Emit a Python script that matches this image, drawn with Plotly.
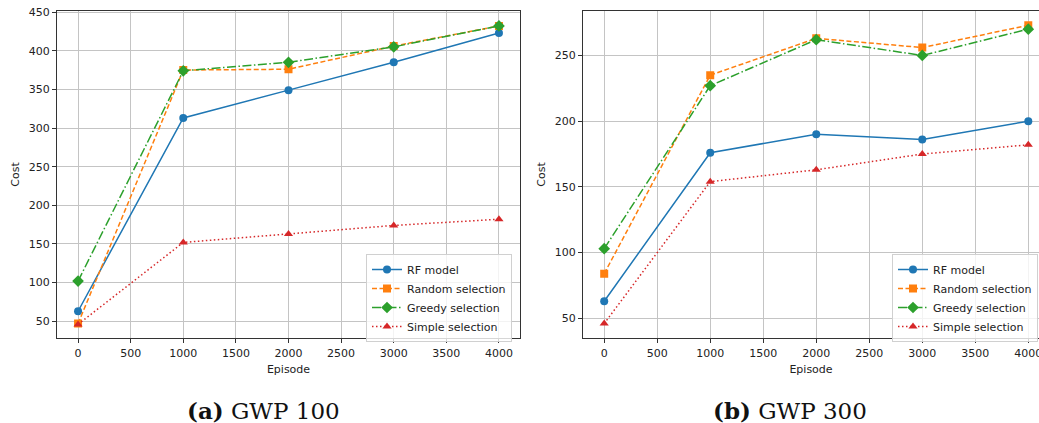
import plotly.graph_objects as go

episodes = [0, 1000, 2000, 3000, 4000]
series_names = ["RF model", "Random selection", "Greedy selection", "Simple selection"]

a_rf = [63, 313, 349, 385, 423]
a_random = [47, 375, 376, 406, 432]
a_greedy = [102, 374, 385, 405, 432]
a_simple = [46, 152, 163, 174, 182]

b_rf = [63, 176, 190, 186, 200]
b_random = [84, 235, 263, 256, 273]
b_greedy = [103, 227, 262, 250, 270]
b_simple = [46, 154, 163, 175, 182]

x_ticks = [0, 500, 1000, 1500, 2000, 2500, 3000, 3500, 4000]
a_y_ticks = [50, 100, 150, 200, 250, 300, 350, 400, 450]
b_y_ticks = [50, 100, 150, 200, 250]
panel_titles = ["<b>(a)</b> GWP 100", "<b>(b)</b> GWP 300"]

colors = ["#1f77b4", "#ff7f0e", "#2ca02c", "#d62728"]
dashes = ["solid", "5px,2.5px", "9px,2.5px,1.5px,2.5px", "1.5px,2.5px"]
symbols = ["circle", "square", "diamond", "triangle-up"]
msizes = [8, 8, 9, 8]

W, H = 1039, 423
fig = go.Figure()

panels = [
    ([a_rf, a_random, a_greedy, a_simple], "x", "y", "legend"),
    ([b_rf, b_random, b_greedy, b_simple], "x2", "y2", "legend2"),
]
for data, xa, ya, lg in panels:
    for i, vals in enumerate(data):
        fig.add_trace(go.Scatter(
            x=episodes, y=vals, name=series_names[i], mode="lines+markers",
            line=dict(color=colors[i], width=1.5, dash=dashes[i]),
            marker=dict(symbol=symbols[i], size=msizes[i], color=colors[i]),
            xaxis=xa, yaxis=ya, legend=lg, showlegend=True,
        ))

font = dict(family="DejaVu Sans", size=11, color="#222222")
axis_common = dict(
    showgrid=True, gridcolor="#c4c4c4", gridwidth=1,
    showline=True, linecolor="#333333", linewidth=1,
    ticks="outside", ticklen=4, tickcolor="#333333", tickwidth=1,
    zeroline=False, tickfont=font, ticklabeloverflow="allow",
)
ydom = [1 - 338.3 / H, 1 - 10.5 / H]

fig.update_layout(
    width=W, height=H,
    margin=dict(l=0, r=0, t=0, b=0, autoexpand=False),
    paper_bgcolor="white", plot_bgcolor="white",
    font=font,
    xaxis=dict(axis_common, domain=[57 / W, 520 / W], range=[-200, 4200],
               tickvals=x_ticks, mirror=True,
               title=dict(text="Episode", font=font, standoff=6), anchor="y"),
    yaxis=dict(axis_common, domain=ydom, range=[28, 452], tickvals=a_y_ticks,
               mirror=True, title=dict(text="Cost", font=font, standoff=6), anchor="x"),
    xaxis2=dict(axis_common, domain=[583 / W, 1.0], range=[-200, 4101],
                tickvals=x_ticks, mirror=True,
                title=dict(text="Episode", font=font, standoff=6), anchor="y2"),
    yaxis2=dict(axis_common, domain=ydom, range=[34.8, 284.2], tickvals=b_y_ticks,
                mirror=False, title=dict(text="Cost", font=font, standoff=6), anchor="x2"),
    legend=dict(x=366 / W, y=1 - 254 / H, xanchor="left", yanchor="top",
                bgcolor="rgba(255,255,255,0.8)", bordercolor="#d0d0d0", borderwidth=1,
                font=font, tracegroupgap=0, itemwidth=30),
    legend2=dict(x=892 / W, y=1 - 254 / H, xanchor="left", yanchor="top",
                 bgcolor="rgba(255,255,255,0.8)", bordercolor="#d0d0d0", borderwidth=1,
                 font=font, tracegroupgap=0, itemwidth=30),
    showlegend=True,
)

for cx, txt in [(263, panel_titles[0]), (790, panel_titles[1])]:
    fig.add_annotation(x=cx / W, y=1 - 410 / H, xref="paper", yref="paper",
                       text=txt, showarrow=False, xanchor="center", yanchor="middle",
                       font=dict(family="DejaVu Serif", size=23, color="#111111"))

fig.write_html("out.html", config={"displayModeBar": False},
               post_script="document.body.style.margin='0';document.body.style.overflow='hidden';")
